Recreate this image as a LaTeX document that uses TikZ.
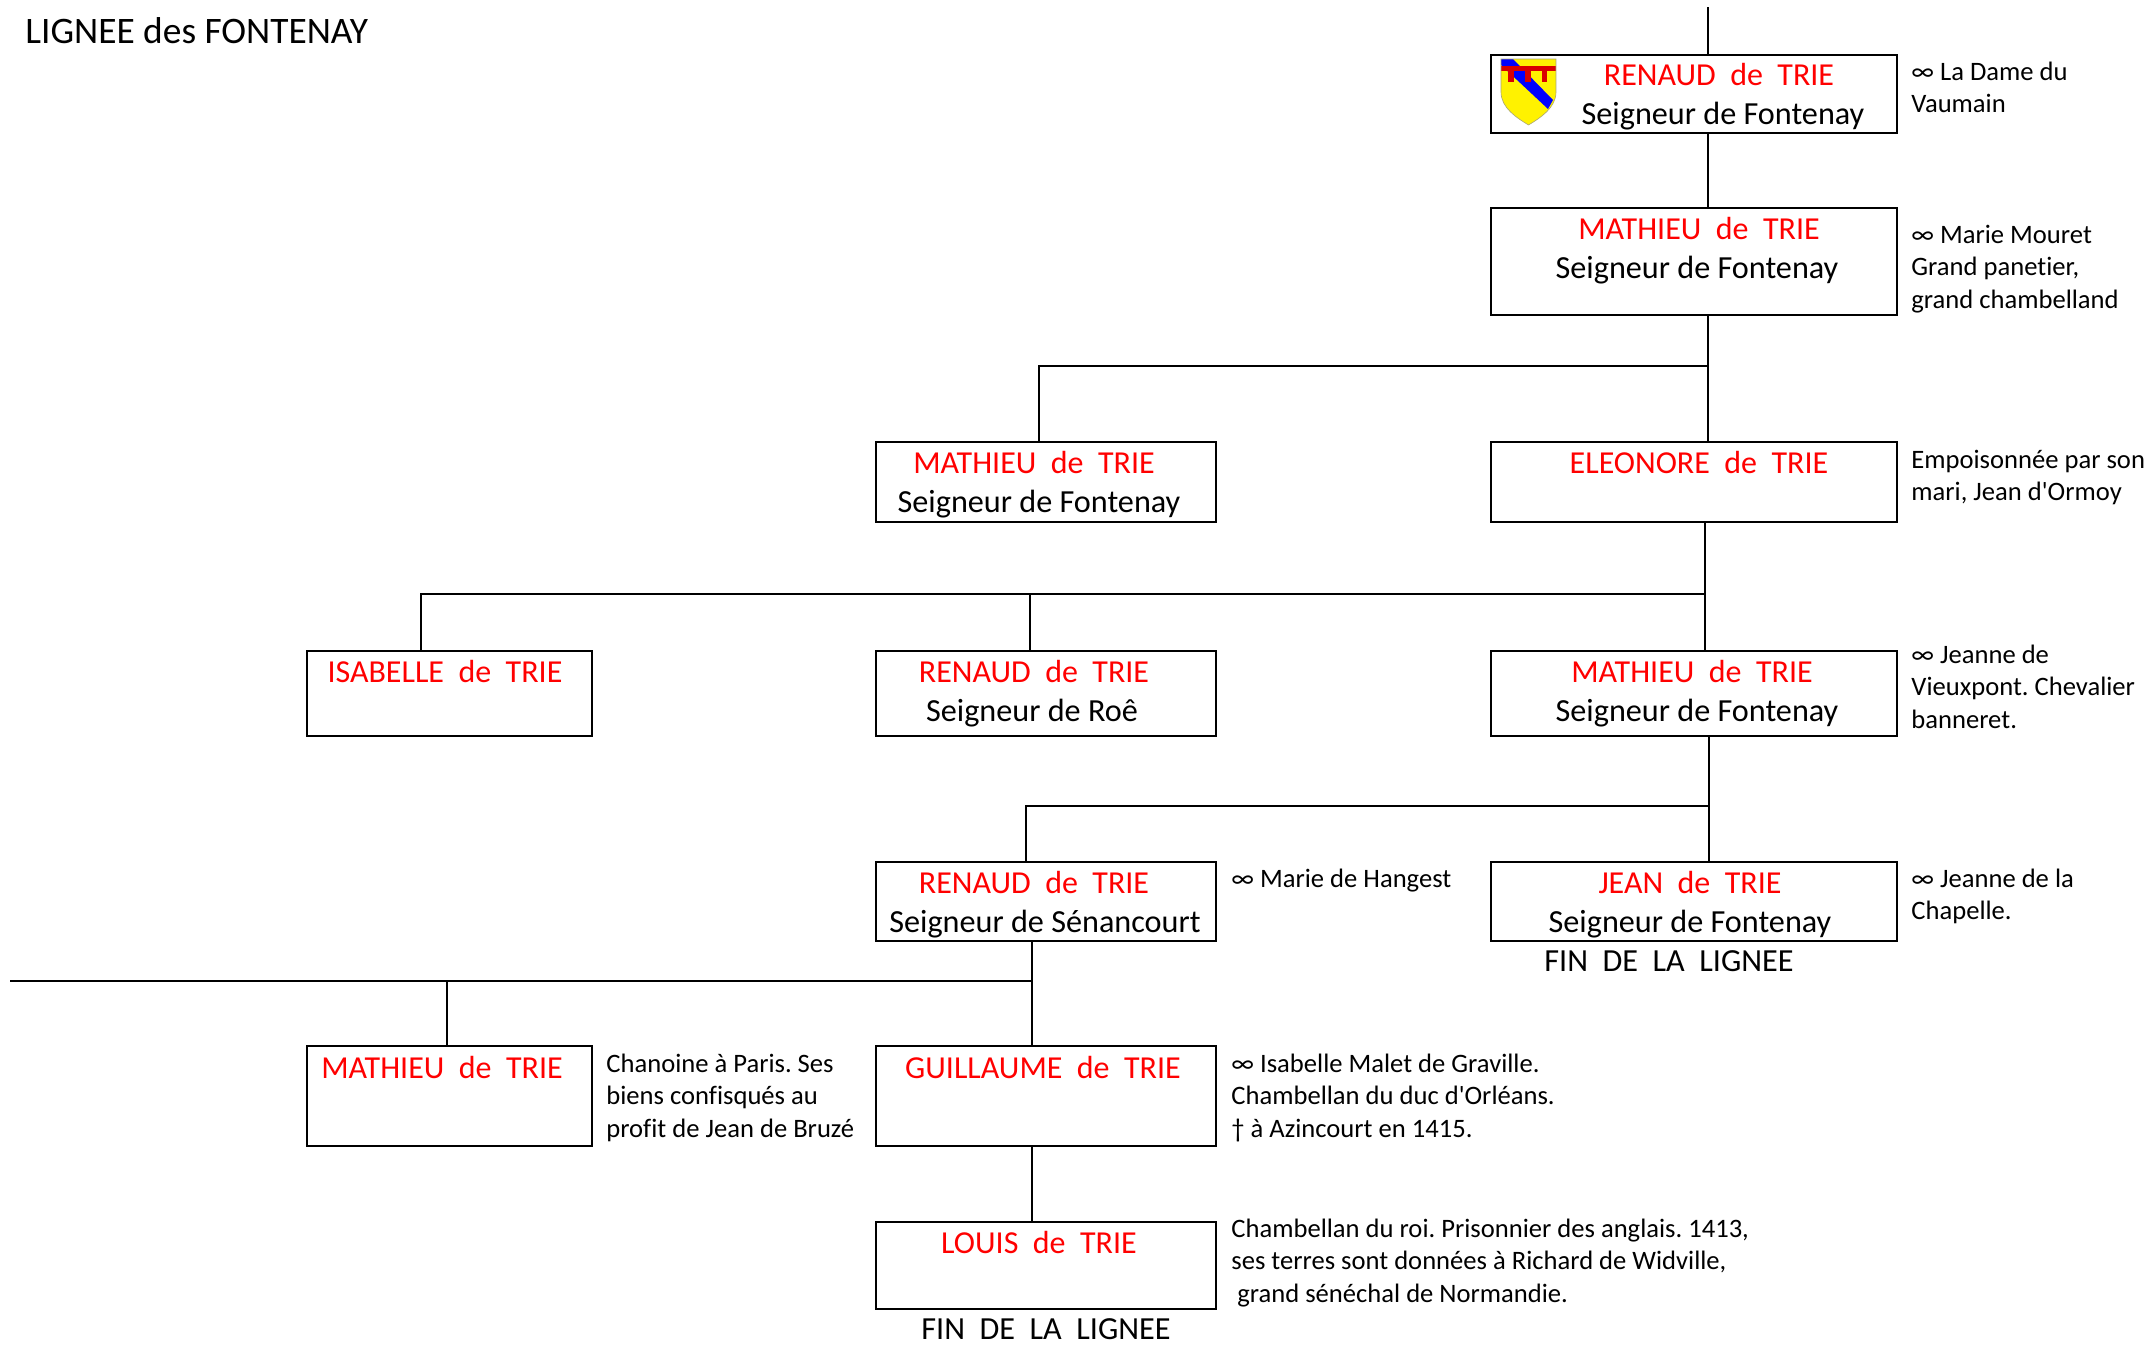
\documentclass[tikz,border=0pt]{standalone}
\usepackage{fontspec}
\setmainfont{Carlito}[Ligatures={TeXOff,NoCommon}]
\tikzset{
  famille/.style={draw=black,line width=1.2pt,fill=white,inner sep=0pt,anchor=north west},
  lien/.style={draw=black,line width=0.85pt},
  nom/.style={font=\fontsize{16}{18}\selectfont,text=red,anchor=base,inner sep=0pt},
  titre/.style={font=\fontsize{16.1}{18}\selectfont,text=black,anchor=base,inner sep=0pt},
  note/.style={font=\fontsize{13.3}{16.2}\selectfont,text=black,align=left,anchor=north west,inner sep=0pt},
}
\newcommand{\boite}[5]{\node[famille,minimum width=#4*0.5pt,minimum height=#5*0.5pt] (#1) at (#2,#3) {};}
\newcommand{\prem}{\rule{0pt}{10pt}}
\frenchspacing
\begin{document}
\begin{tikzpicture}[x=0.5pt,y=-0.5pt]
\useasboundingbox (0,0) rectangle (2154,1345);
% coordinates
\coordinate (haut) at (1708,7);
\coordinate (j1) at (1708,366);
\coordinate (g1) at (1039,366);
\coordinate (j2) at (1705,594);
\coordinate (g2) at (1030,594);
\coordinate (g3) at (421,594);
\coordinate (j3) at (1709,806);
\coordinate (g4) at (1026,806);
\coordinate (j4) at (1032,981);
\coordinate (g5) at (447,981);
\coordinate (g6) at (10,981);
% boxes
\boite{renaudA}{1490}{54}{406}{78}
\boite{mathieuA}{1490}{207}{406}{107}
\boite{mathieuB}{875}{441}{340}{80}
\boite{eleonore}{1490}{441}{406}{80}
\boite{isabelle}{306}{650}{285}{85}
\boite{renaudB}{875}{650}{340}{85}
\boite{mathieuC}{1490}{650}{406}{85}
\boite{renaudC}{875}{861}{340}{79}
\boite{jean}{1490}{861}{406}{79}
\boite{mathieuD}{306}{1045}{285}{100}
\boite{guillaume}{875}{1045}{340}{100}
\boite{louis}{875}{1221}{340}{87}
% connectors
\draw[lien] (haut) -- (renaudA.north -| haut);
\draw[lien] (renaudA.south -| haut) -- (mathieuA.north -| haut);
\draw[lien] (mathieuA.south -| j1) -- (eleonore.north -| j1);
\draw[lien] (j1) -- (g1) -- (mathieuB.north -| g1);
\draw[lien] (eleonore.south -| j2) -- (mathieuC.north -| j2);
\draw[lien] (j2) -- (g3) -- (isabelle.north -| g3);
\draw[lien] (g2) -- (renaudB.north -| g2);
\draw[lien] (mathieuC.south -| j3) -- (jean.north -| j3);
\draw[lien] (j3) -- (g4) -- (renaudC.north -| g4);
\draw[lien] (renaudC.south -| j4) -- (guillaume.north -| j4);
\draw[lien,line width=1.1pt] (j4) -- (g6);
\draw[lien] (g5) -- (mathieuD.north -| g5);
\draw[lien] (guillaume.south -| j4) -- (louis.north -| j4);
% shield
\begin{scope}
\clip (1501,59) -- (1556,59) -- (1556,92) .. controls (1556,108) and (1540,118) .. (1528.5,125) .. controls (1517,118) and (1501,108) .. (1501,92) -- cycle;
\fill[yellow] (1501,59) rectangle (1556,125);
\fill[blue] (1501,59) -- (1513,59) -- (1553,100) -- (1548,109) -- (1501,65) -- cycle;
\fill[red!85!black] (1501,66) rectangle (1556,71);
\fill[red!85!black] (1508,71) rectangle (1514,82);
\fill[red!85!black] (1525,71) rectangle (1531,82);
\fill[red!85!black] (1542,71) rectangle (1547,82);
\end{scope}
\draw[draw=black!55!yellow!70!white,line width=0.3pt] (1501,59) -- (1556,59) -- (1556,92) .. controls (1556,108) and (1540,118) .. (1528.5,125) .. controls (1517,118) and (1501,108) .. (1501,92) -- cycle;
% title
\node[anchor=base west,inner sep=0pt,font=\fontsize{18.7}{22}\selectfont] (entete) at (25,43) {LIGNEE des FONTENAY};
% names
\node[nom] (n1) at (1719,85) {RENAUD~~de~~TRIE};
\node[titre] (t1) at (1723,124) {Seigneur de Fontenay};
\node[nom] (n2) at (1699,239) {MATHIEU~~de~~TRIE};
\node[titre] (t2) at (1697,278) {Seigneur de Fontenay};
\node[nom] (n3) at (1034,473) {MATHIEU~~de~~TRIE};
\node[titre] (t3) at (1039,512) {Seigneur de Fontenay};
\node[nom] (n4) at (1699,473) {ELEONORE~~de~~TRIE};
\node[nom] (n5) at (445,682) {ISABELLE~~de~~TRIE};
\node[nom] (n6) at (1034,682) {RENAUD~~de~~TRIE};
\node[titre] (t6) at (1032,721) {Seigneur de Roê};
\node[nom] (n7) at (1692,682) {MATHIEU~~de~~TRIE};
\node[titre] (t7) at (1697,721) {Seigneur de Fontenay};
\node[nom] (n8) at (1034,893) {RENAUD~~de~~TRIE};
\node[titre] (t8) at (1045,932) {Seigneur de Sénancourt};
\node[nom] (n9) at (1690,893) {JEAN~~de~~TRIE};
\node[titre] (t9) at (1690,932) {Seigneur de Fontenay};
\node[titre] (fin1) at (1669,971) {FIN~~DE~~LA~~LIGNEE};
\node[nom] (n10) at (442,1078) {MATHIEU~~de~~TRIE};
\node[nom] (n11) at (1043,1078) {GUILLAUME~~de~~TRIE};
\node[nom] (n12) at (1039,1253) {LOUIS~~de~~TRIE};
\node[titre] (fin2) at (1046,1339) {FIN~~DE~~LA~~LIGNEE};
% notes
\node[note] (a1) at (1911,60) {\prem ∞ La Dame du\\Vaumain};
\node[note] (a2) at (1911,223) {\prem ∞ Marie Mouret\\Grand panetier,\\grand chambelland};
\node[note] (a3) at (1911,448) {\prem Empoisonnée par son\\mari, Jean d'Ormoy};
\node[note] (a4) at (1911,643) {\prem ∞ Jeanne de\\Vieuxpont. Chevalier\\banneret.};
\node[note] (a5) at (1911,867) {\prem ∞ Jeanne de la\\Chapelle.};
\node[note] (a6) at (1231,867) {\prem ∞ Marie de Hangest};
\node[note] (a7) at (606,1052) {\prem Chanoine à Paris. Ses\\biens confisqués au\\profit de Jean de Bruzé};
\node[note] (a8) at (1231,1052) {\prem ∞ Isabelle Malet de Graville.\\Chambellan du duc d'Orléans.\\† à Azincourt en 1415.};
\node[note] (a9) at (1231,1217) {\prem Chambellan du roi. Prisonnier des anglais. 1413,\\ses terres sont données à Richard de Widville,\\\hspace*{3pt}grand sénéchal de Normandie.};
\end{tikzpicture}
\end{document}
